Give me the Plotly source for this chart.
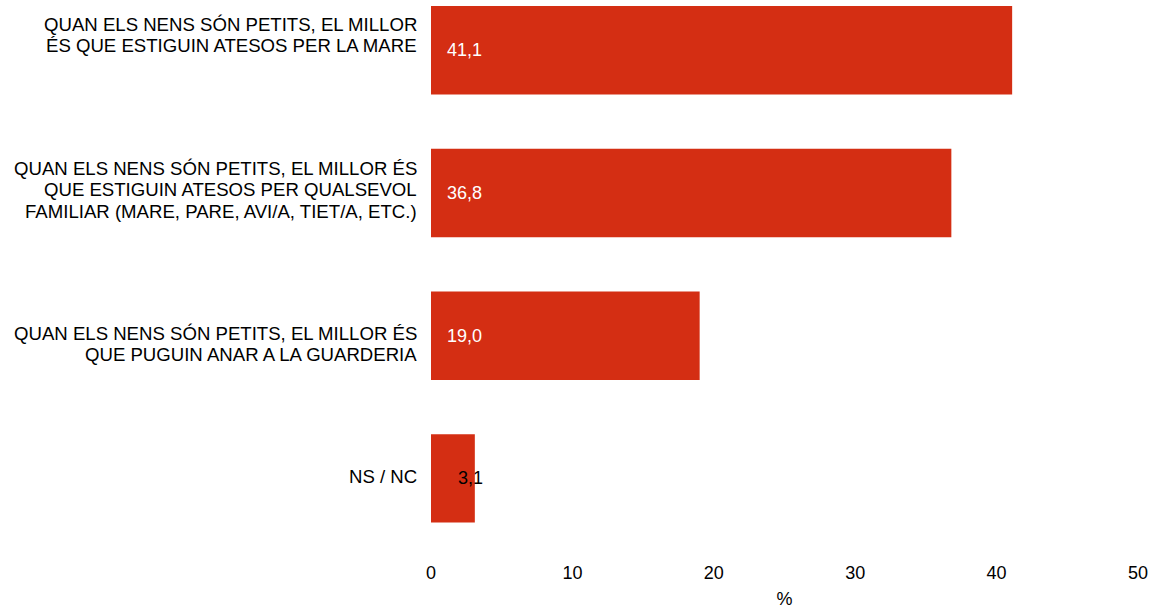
import plotly.graph_objects as go

categories = [
    "QUAN ELS NENS SÓN PETITS, EL MILLOR<br>ÉS QUE ESTIGUIN ATESOS PER LA MARE",
    "QUAN ELS NENS SÓN PETITS, EL MILLOR ÉS<br>QUE ESTIGUIN ATESOS PER QUALSEVOL<br>FAMILIAR (MARE, PARE, AVI/A, TIET/A, ETC.)",
    "QUAN ELS NENS SÓN PETITS, EL MILLOR ÉS<br>QUE PUGUIN ANAR A LA GUARDERIA",
    "NS / NC",
]
values = [41.1, 36.8, 19.0, 3.1]
x_ticks = [0, 10, 20, 30, 40, 50]

FONT = "Liberation Sans, Arial, sans-serif"
BAR_COLOR = "#D42E13"
LABEL_SIZE = 18.6
LINE_PX = 21.3
# vertical nudge (px, downward) of each category label block, as in the source layout
label_nudge = [-15.5, -3.2, 8.2, -1.6]

fig = go.Figure()
fig.add_trace(go.Bar(
    x=values,
    y=categories,
    orientation="h",
    marker=dict(color=BAR_COLOR, line=dict(width=0)),
    width=0.62,
    hoverinfo="x",
))

# value labels inside the bars
for cat, v in zip(categories, values):
    wide = v >= 10
    fig.add_annotation(
        x=0, y=cat, xref="x", yref="y",
        text=f"{v:.1f}".replace(".", ","),
        showarrow=False, xanchor="left", yanchor="middle",
        xshift=14 if wide else 25,
        font=dict(family=FONT, size=18, color="white" if wide else "black"),
    )

# category labels (right-aligned, left of the plot), one line at a time for tight spacing
for cat, nudge in zip(categories, label_nudge):
    lines = cat.split("<br>")
    n = len(lines)
    for i, line in enumerate(lines):
        dy = nudge + (i - (n - 1) / 2) * LINE_PX
        fig.add_annotation(
            x=0, y=cat, xref="paper", yref="y",
            text=line, showarrow=False,
            xanchor="right", yanchor="middle", align="right",
            xshift=-12, yshift=-dy,
            font=dict(family=FONT, size=LABEL_SIZE, color="#000000"),
        )

fig.update_layout(
    width=1151, height=609,
    margin=dict(l=431, r=13, t=0, b=49, autoexpand=False),
    paper_bgcolor="white", plot_bgcolor="white",
    showlegend=False,
    font=dict(family=FONT, size=18, color="#000000"),
)
fig.update_xaxes(
    range=[0, 50], tickvals=x_ticks, ticktext=[str(t) for t in x_ticks],
    showgrid=False, zeroline=False, showline=False, ticks="",
    title=dict(text="%", standoff=18, font=dict(size=18)),
    tickfont=dict(size=18), automargin=False,
)
fig.update_yaxes(
    type="category", categoryorder="array", categoryarray=categories,
    range=[3.572, -0.352],
    showgrid=False, zeroline=False, showline=False, ticks="",
    showticklabels=False, automargin=False,
)

fig.write_html(
    "out.html",
    config={"displayModeBar": False},
    post_script="document.body.style.margin='0';document.body.style.padding='0';",
)
